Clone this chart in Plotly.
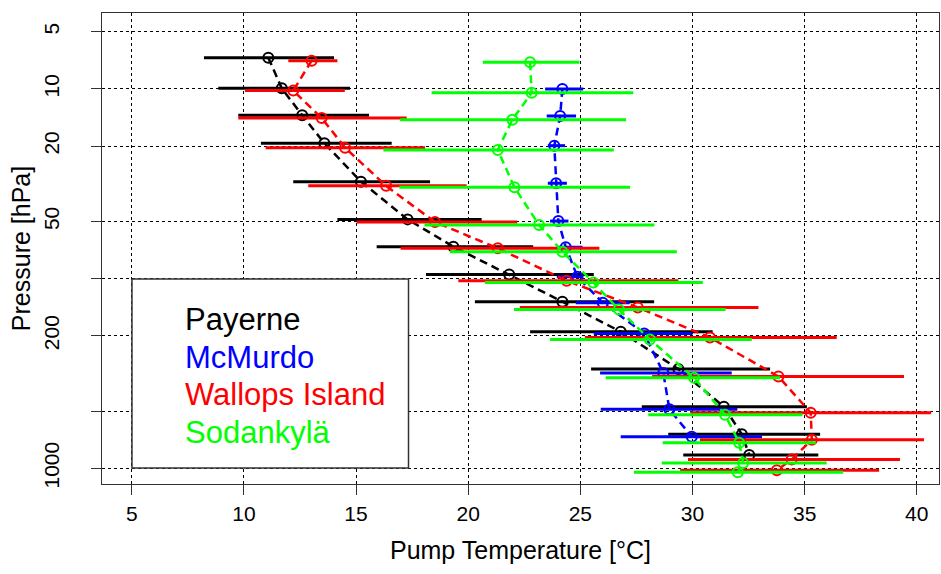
import numpy as np
import plotly.graph_objects as go

# ---------------- data ----------------
# Payerne (black)
pay_p = [6.84, 9.92, 13.76, 19.33, 30.8, 48.7, 67.8, 95.2, 132.3, 190.4, 299.5, 473.4, 661, 851]
pay_t = [11.09, 11.69, 12.6, 13.59, 15.22, 17.3, 19.34, 21.83, 24.2, 26.8, 29.37, 31.4, 32.2, 32.53]
pay_lo = [8.22, 8.86, 9.75, 10.76, 12.2, 14.17, 15.92, 18.12, 20.3, 22.76, 25.48, 27.74, 28.92, 29.59]
pay_hi = [14.02, 14.73, 15.58, 16.59, 18.3, 20.6, 22.9, 25.6, 28.29, 30.9, 33.46, 35.1, 35.69, 35.61]

# McMurdo (blue)
mcm_p = [10.0, 13.88, 19.9, 31.4, 49.7, 68.3, 97.7, 133.9, 194.9, 314.5, 488.6, 681.5]
mcm_t = [24.2, 24.1, 23.84, 23.92, 24.02, 24.35, 24.87, 26.0, 27.85, 28.7, 28.97, 29.97]
mcm_lo = [23.43, 23.5, 23.55, 23.55, 23.65, 23.95, 23.95, 24.8, 25.6, 25.88, 25.91, 26.8]
mcm_hi = [25.13, 24.81, 24.32, 24.4, 24.47, 25.1, 25.13, 27.2, 30.0, 31.75, 32.0, 33.1]

# Wallops Island (red)
wal_p = [7.09, 10.2, 14.22, 20.4, 32.4, 50.3, 69.2, 102.5, 141.9, 204.3, 328.1, 509, 707.6, 898.5, 1024.5]
wal_t = [13.02, 12.2, 13.47, 14.51, 16.34, 18.52, 21.32, 24.39, 27.56, 30.78, 33.83, 35.27, 35.32, 34.42, 33.76]
wal_lo = [11.98, 10.05, 9.75, 10.97, 12.87, 15.03, 16.99, 19.56, 22.3, 25.2, 28.2, 29.9, 30.33, 29.8, 29.45]
wal_hi = [14.17, 14.5, 17.26, 18.08, 19.93, 22.19, 25.85, 29.37, 32.94, 36.43, 39.43, 40.64, 40.32, 39.25, 38.32]

# Sodankylä (green)
sod_p = [7.23, 10.46, 14.52, 20.97, 33.0, 52.1, 72.1, 104.8, 145.6, 209.3, 333.3, 521.9, 732.8, 936.5, 1048.6]
sod_t = [22.76, 22.83, 21.97, 21.32, 22.06, 23.16, 24.2, 25.58, 26.72, 28.1, 30.07, 31.45, 32.08, 32.26, 32.02]
sod_lo = [20.65, 18.37, 16.95, 16.22, 16.93, 18.05, 19.19, 20.75, 22.04, 23.65, 26.13, 28.03, 28.67, 28.63, 27.39]
sod_hi = [24.96, 27.36, 27.04, 26.49, 27.22, 28.3, 29.3, 30.46, 31.48, 32.64, 33.9, 34.9, 35.5, 35.98, 36.72]

station_names = ["Payerne", "McMurdo", "Wallops Island", "Sodankylä"]
station_colors = ["#000000", "#0000FF", "#FF0000", "#00FF00"]

x_ticks = [5, 10, 15, 20, 25, 30, 35, 40]
y_ticks = [5, 10, 20, 50, 100, 200, 500, 1000]
y_ticktext = ["5", "10", "20", "50", "", "200", "", "1000"]

FONT = "Liberation Sans, Arial, sans-serif"

series = [
    (pay_p, pay_t, pay_lo, pay_hi),
    (mcm_p, mcm_t, mcm_lo, mcm_hi),
    (wal_p, wal_t, wal_lo, wal_hi),
    (sod_p, sod_t, sod_lo, sod_hi),
]

fig = go.Figure()
for (p, t, lo, hi), name, col in zip(series, station_names, station_colors):
    t = np.array(t); lo = np.array(lo); hi = np.array(hi)
    fig.add_trace(go.Scatter(
        x=t, y=p, name=name, mode="lines+markers",
        line=dict(color=col, width=2.5, dash="8px,5px"),
        marker=dict(symbol="circle-open", size=10, color=col, line=dict(width=2, color=col)),
        error_x=dict(type="data", symmetric=False, array=hi - t, arrayminus=t - lo,
                     color=col, thickness=3, width=0),
        showlegend=False,
    ))

fig.update_layout(
    width=941, height=574,
    margin=dict(l=102, r=2, t=13, b=90),
    paper_bgcolor="white", plot_bgcolor="white",
    font=dict(family=FONT, size=21, color="black"),
    xaxis=dict(
        range=[3.675, 40.99], tickmode="array", tickvals=x_ticks,
        ticks="outside", ticklen=10, tickcolor="#333", tickwidth=1,
        showline=True, linecolor="#333", linewidth=1, mirror=True,
        showgrid=True, gridcolor="black", griddash="dot", gridwidth=1,
        zeroline=False, tickfont=dict(size=21), ticklabelstandoff=1,
        title=dict(text="Pump Temperature [°C]", font=dict(size=25), standoff=17),
        automargin=False,
    ),
    yaxis=dict(
        type="log", range=[np.log10(1210), np.log10(3.975)],
        tickmode="array", tickvals=y_ticks, ticktext=y_ticktext, tickangle=-90,
        ticks="outside", ticklen=10, tickcolor="#333", tickwidth=1,
        showline=True, linecolor="#333", linewidth=1, mirror=True,
        showgrid=True, gridcolor="black", griddash="dot", gridwidth=1,
        zeroline=False, tickfont=dict(size=21), ticklabelstandoff=24,
        title=dict(text="Pressure [hPa]", font=dict(size=25), standoff=1),
        automargin=False,
    ),
)

# legend box (text only, as in the reference)
fig.add_shape(type="rect", xref="paper", yref="paper",
              x0=0.0358, x1=0.3662, y0=0.034, y1=0.4352,
              line=dict(color="#333", width=1.5), fillcolor="white", layer="above")
leg_y = [0.3482, 0.269, 0.189, 0.1089]
for name, col, yy in zip(station_names, station_colors, leg_y):
    fig.add_annotation(xref="paper", yref="paper", x=0.097, y=yy, text=name,
                       showarrow=False, xanchor="left", yanchor="middle",
                       font=dict(family=FONT, size=31, color=col))

fig.write_html("out.html")
